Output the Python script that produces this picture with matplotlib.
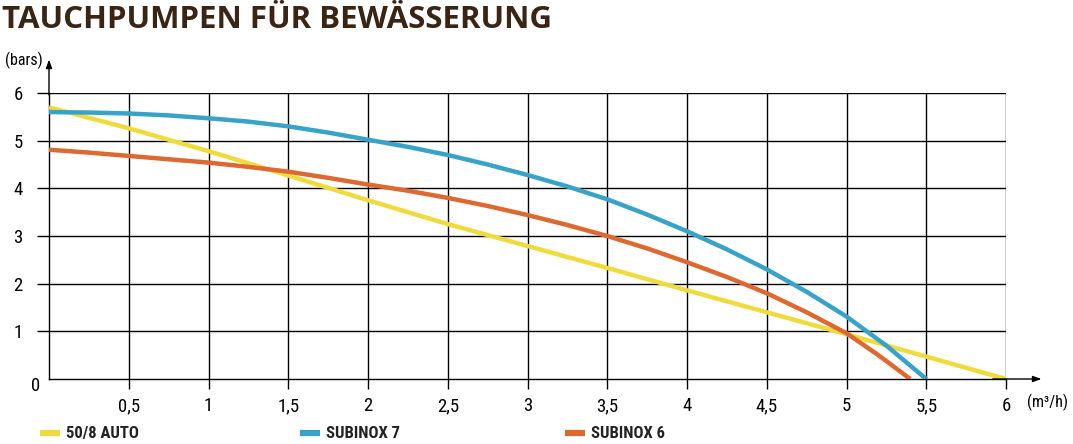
import matplotlib.pyplot as plt
from matplotlib import font_manager

# data
flow_auto = [0, 0.5, 1, 1.5, 2, 2.5, 3, 3.5, 4, 4.5, 5, 5.5, 6]
bar_auto = [5.70, 5.26, 4.78, 4.27, 3.75, 3.25, 2.79, 2.33, 1.86, 1.40, 0.94, 0.47, 0.0]

flow_s7 = [0, 0.25, 0.5, 0.75, 1, 1.25, 1.5, 1.75, 2, 2.25, 2.5, 2.75, 3, 3.25, 3.5,
           3.75, 4, 4.25, 4.5, 4.75, 5, 5.25, 5.5]
bar_s7 = [5.60, 5.59, 5.57, 5.53, 5.47, 5.40, 5.30, 5.17, 5.02, 4.87, 4.70, 4.50, 4.28,
          4.04, 3.77, 3.45, 3.10, 2.72, 2.30, 1.83, 1.31, 0.70, 0.0]

flow_s6 = [0, 0.25, 0.5, 0.75, 1, 1.25, 1.5, 1.75, 2, 2.25, 2.5, 2.75, 3, 3.25, 3.5,
           3.75, 4, 4.25, 4.5, 4.75, 5, 5.2, 5.4]
bar_s6 = [4.81, 4.75, 4.68, 4.61, 4.54, 4.45, 4.35, 4.22, 4.08, 3.95, 3.80, 3.63, 3.44,
          3.23, 3.00, 2.74, 2.45, 2.14, 1.80, 1.40, 0.96, 0.50, 0.0]

x_ticks = [0.5, 1, 1.5, 2, 2.5, 3, 3.5, 4, 4.5, 5, 5.5, 6]
x_labels = ['0,5', '1', '1,5', '2', '2,5', '3', '3,5', '4', '4,5', '5', '5,5', '6']
y_ticks = [1, 2, 3, 4, 5, 6]

names = ['50/8 AUTO', 'SUBINOX 7', 'SUBINOX 6']
colors = ['#EFDB3B', '#38A3C6', '#DD6830']

installed = {f.name for f in font_manager.fontManager.ttflist}
narrow = 'DejaVu Sans'
for cand in ['Liberation Sans Narrow', 'Roboto Condensed', 'Liberation Sans']:
    if cand in installed:
        narrow = cand
        break

W, H = 1073, 444
fig = plt.figure(figsize=(W / 100, H / 100), dpi=100)
x0, x1, y0, y1 = 49, 1006, 379, 93
ax = fig.add_axes([x0 / W, 1 - y0 / H, (x1 - x0) / W, (y0 - y1) / H])
ax.set_xlim(0, 6)
ax.set_ylim(0, 6)

ax.plot(flow_auto, bar_auto, color=colors[0], lw=3.2, solid_capstyle='butt', zorder=3)
ax.plot(flow_s6, bar_s6, color=colors[2], lw=3.2, solid_capstyle='butt', zorder=4)
ax.plot(flow_s7, bar_s7, color=colors[1], lw=3.2, solid_capstyle='butt', zorder=5)

ax.grid(True, color='black', lw=1.0)
ax.set_axisbelow(True)
for s in ['top', 'right']:
    ax.spines[s].set_visible(False)
ax.spines['left'].set_linewidth(1.0)
ax.spines['bottom'].set_linewidth(1.0)

ax.set_xticks(x_ticks)
ax.set_xticklabels(x_labels)
ax.set_yticks(y_ticks)
ax.tick_params(axis='x', direction='out', length=7, width=1.0, pad=6,
               labelsize=13.5)
ax.tick_params(axis='y', direction='out', length=9, width=1.0, pad=10,
               labelsize=13.5)
for lab in ax.get_xticklabels() + ax.get_yticklabels():
    lab.set_family(narrow)

# axis arrows
ax.annotate('', xy=(0, 6.76), xytext=(0, 5.9), xycoords='data',
            arrowprops=dict(arrowstyle='-|>,head_length=0.5,head_width=0.18',
                            color='black', lw=1.0), annotation_clip=False)
ax.annotate('', xy=(6.24, 0), xytext=(5.9, 0), xycoords='data',
            arrowprops=dict(arrowstyle='-|>,head_length=0.5,head_width=0.18',
                            color='black', lw=1.0), annotation_clip=False)

fig.text(40 / W, 1 - 386 / H, '0', ha='right', va='center', fontsize=13.5,
         family=narrow)
fig.text(24 / W, 1 - 60 / H, '(bars)', ha='center', va='center', fontsize=11.5,
         family=narrow)
fig.text(1048 / W, 1 - 402 / H, '(m³/h)', ha='center', va='center', fontsize=11.5,
         family=narrow)

fig.text(2 / W, 1 - 20 / H, 'TAUCHPUMPEN FÜR BEWÄSSERUNG', ha='left', va='center',
         fontsize=22.5, fontweight='bold', family=['Open Sans', 'DejaVu Sans'],
         color='#3A2414')

# legend
leg_x = [40, 300, 565]
for lx, name, col in zip(leg_x, names, colors):
    fig.add_artist(plt.Line2D([lx / W, (lx + 20) / W], [1 - 433 / H, 1 - 433 / H],
                              color=col, lw=4.5, solid_capstyle='butt'))
    fig.text((lx + 26) / W, 1 - 433 / H, name, ha='left', va='center',
             fontsize=12, fontweight='bold', family=narrow, color='#222222')

fig.savefig('out.png', dpi=100)
